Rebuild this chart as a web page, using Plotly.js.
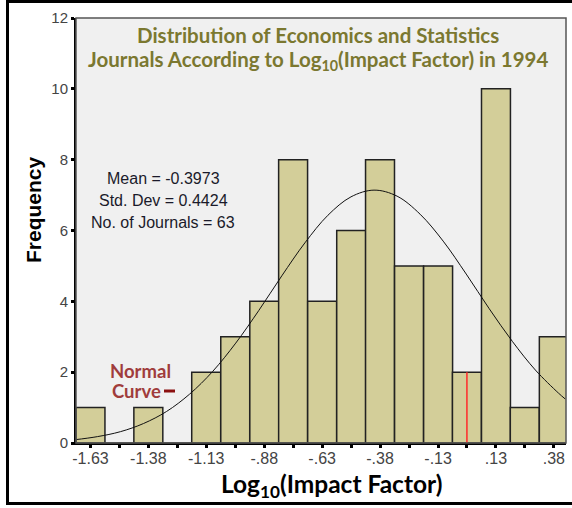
<!DOCTYPE html>
<html><head><meta charset="utf-8">
<script src="https://cdn.plot.ly/plotly-3.0.1.min.js"></script>
<style>html,body{margin:0;padding:0;background:#fff;}#chart{width:572px;height:508px;}</style>
</head><body><div id="chart"></div>
<script>
// Bin centres (Log10 impact factor) and frequencies
const binCenters = [-1.63, -1.504, -1.379, -1.253, -1.128, -1.002, -0.876, -0.751, -0.625, -0.499, -0.374, -0.248, -0.122, 0.003, 0.129, 0.254, 0.38];
const frequencies = [1, 0, 1, 0, 2, 3, 4, 8, 4, 6, 8, 5, 5, 2, 10, 1, 3];
const binWidth = 0.1256;
const labelTickVals = [-1.63, -1.379, -1.128, -0.876, -0.625, -0.374, -0.122, 0.129, 0.38];
const tickLabels = ["-1.63", "-1.38", "-1.13", "-.88", "-.63", "-.38", "-.13", ".13", ".38"];
const minorTickVals = [-1.504, -1.253, -1.002, -0.751, -0.499, -0.248, 0.003, 0.254];
// Normal curve
const curveX = [-1.7, -1.6, -1.5, -1.4, -1.3, -1.2, -1.1, -1.0, -0.9, -0.8, -0.7, -0.6, -0.5, -0.4, -0.3, -0.2, -0.1, 0.0, 0.1, 0.2, 0.3, 0.4, 0.43];
const curveY = [0.09, 0.18, 0.32, 0.55, 0.89, 1.38, 2.02, 2.82, 3.74, 4.72, 5.65, 6.43, 6.95, 7.14, 6.97, 6.46, 5.70, 4.77, 3.79, 2.87, 2.06, 1.41, 1.24];
// Red marker line
const redLineX = [0.003, 0.003];
const redLineY = [0, 2];
const statsLines = ["Mean = -0.3973", "Std. Dev = 0.4424", "No. of Journals = 63"];

const traces = [
  {type: 'bar', x: binCenters, y: frequencies, width: binWidth,
   marker: {color: '#d3ce99', line: {color: '#222', width: 1.5}}, hoverinfo: 'x+y'},
  {type: 'scatter', mode: 'lines', x: curveX, y: curveY, line: {color: '#111', width: 1, shape: 'spline'}},
  {type: 'scatter', mode: 'lines', x: redLineX, y: redLineY, line: {color: '#ff2a2a', width: 1.5}}
];

const L = 76, R = 566, T = 18, B = 443;
const px = x => (x - L) / (R - L);
const py = y => (B - y) / (B - T);

const ann = [];
const titleFont = {family: 'Lato, "Open Sans", sans-serif', size: 20.5, color: '#7b7830', weight: 'bold'};
ann.push({text: 'Distribution of Economics and Statistics', x: px(318), y: py(35), font: titleFont});
ann.push({text: 'Journals According to Log<sub>10</sub>(Impact Factor) in 1994', x: px(318), y: py(60), font: titleFont});
const statY = [178, 200, 222];
statsLines.forEach((s, i) => ann.push({text: s, x: px(163), y: py(statY[i]),
  font: {family: 'Arial, "Liberation Sans", sans-serif', size: 16, color: '#1a1a2a'}}));
const redFont = {family: 'Lato, "Open Sans", sans-serif', size: 18.5, color: '#a03c3c', weight: 'bold'};
ann.push({text: 'Normal', x: px(140), y: py(371), font: redFont});
ann.push({text: 'Curve', x: px(136), y: py(391), font: redFont});
ann.push({text: 'Log<sub>10</sub>(Impact Factor)', x: px(331), y: py(485),
  font: {family: 'Lato, "Open Sans", sans-serif', size: 24.5, color: '#000', weight: 'bold'}});
ann.push({text: '<b>Frequency</b>', x: px(33), y: py(210), textangle: -90,
  font: {family: 'Arial, "Liberation Sans", sans-serif', size: 21, color: '#000'}});
ann.forEach(a => { a.xref = 'paper'; a.yref = 'paper'; a.showarrow = false; a.xanchor = 'center'; a.yanchor = 'middle'; });

const layout = {
  width: 572, height: 508,
  margin: {l: L, r: 572 - R, t: T, b: 508 - B},
  paper_bgcolor: '#fff', plot_bgcolor: '#f0f0f0',
  showlegend: false, bargap: 0,
  xaxis: {range: [-1.6928, 0.4328], tickvals: labelTickVals, ticktext: tickLabels,
    ticks: 'outside', ticklen: 3, tickwidth: 3, tickcolor: '#000', ticklabelstandoff: -3,
    minor: {tickvals: minorTickVals, ticks: 'outside', ticklen: 3, tickwidth: 3, tickcolor: '#000', showgrid: false},
    showline: true, linecolor: '#000', linewidth: 2, showgrid: false, zeroline: false,
    tickfont: {family: 'Arial, "Liberation Sans", sans-serif', size: 16, color: '#444'}},
  yaxis: {range: [0, 12], tickvals: [0, 2, 4, 6, 8, 10, 12],
    ticks: 'outside', ticklen: 3, tickwidth: 3, tickcolor: '#000',
    showline: true, linecolor: '#000', linewidth: 2, showgrid: false, zeroline: false,
    tickfont: {family: 'Arial, "Liberation Sans", sans-serif', size: 15, color: '#444'}},
  annotations: ann,
  shapes: [
    {type: 'rect', xref: 'paper', yref: 'paper', x0: 0, x1: 1, y0: 0, y1: 1, line: {color: '#555', width: 1.5}},
    {type: 'line', xref: 'paper', yref: 'paper', x0: px(164), x1: px(175), y0: py(391), y1: py(391), line: {color: '#8b1010', width: 3}},
    {type: 'rect', xref: 'paper', yref: 'paper', x0: px(7.5), x1: px(580), y0: py(503.5), y1: py(1.5), line: {color: '#000', width: 3}}
  ]
};
Plotly.newPlot('chart', traces, layout, {displayModeBar: false, staticPlot: true});
</script></body></html>
